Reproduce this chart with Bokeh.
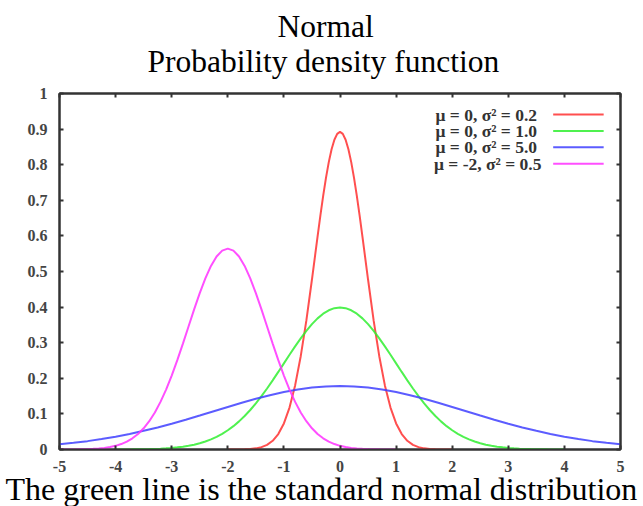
from bokeh.plotting import figure
from bokeh.models import Range1d, FixedTicker, LinearAxis, Label, Title
from bokeh.embed import file_html
from bokeh.resources import INLINE

# ---- data ----
red_x = [-2.0, -1.9, -1.8, -1.7, -1.6, -1.5, -1.4, -1.3, -1.2, -1.1, -1.0, -0.9, -0.8, -0.7, -0.6, -0.5, -0.45, -0.4, -0.35,
         -0.3, -0.25, -0.2, -0.15, -0.1, -0.05, 0.0, 0.05, 0.1, 0.15, 0.2, 0.25, 0.3, 0.35, 0.4, 0.45, 0.5, 0.6, 0.7, 0.8,
         0.9, 1.0, 1.1, 1.2, 1.3, 1.4, 1.5, 1.6, 1.7, 1.8, 1.9, 2.0]
red_y = [0.0000, 0.0001, 0.0003, 0.0007, 0.0015, 0.0032, 0.0066, 0.0130, 0.0244, 0.0433, 0.0732, 0.1178, 0.1801, 0.2621,
         0.3619, 0.4775, 0.5377, 0.5980, 0.6568, 0.7124, 0.7631, 0.8072, 0.8433, 0.8701, 0.8865, 0.8921, 0.8865, 0.8701,
         0.8433, 0.8072, 0.7631, 0.7124, 0.6568, 0.5980, 0.5377, 0.4775, 0.3619, 0.2621, 0.1801, 0.1178, 0.0732, 0.0433,
         0.0244, 0.0130, 0.0066, 0.0032, 0.0015, 0.0007, 0.0003, 0.0001, 0.0000]

green_x = [-4.0, -3.9, -3.8, -3.7, -3.6, -3.5, -3.4, -3.3, -3.2, -3.1, -3.0, -2.9, -2.8, -2.7, -2.6, -2.5, -2.4, -2.3, -2.2, -2.1,
           -2.0, -1.9, -1.8, -1.7, -1.6, -1.5, -1.4, -1.3, -1.2, -1.1, -1.0, -0.9, -0.8, -0.7, -0.6, -0.5, -0.4, -0.3, -0.2, -0.1,
           0.0, 0.1, 0.2, 0.3, 0.4, 0.5, 0.6, 0.7, 0.8, 0.9, 1.0, 1.1, 1.2, 1.3, 1.4, 1.5, 1.6, 1.7, 1.8, 1.9,
           2.0, 2.1, 2.2, 2.3, 2.4, 2.5, 2.6, 2.7, 2.8, 2.9, 3.0, 3.1, 3.2, 3.3, 3.4, 3.5, 3.6, 3.7, 3.8, 3.9, 4.0]
green_y = [0.0001, 0.0002, 0.0003, 0.0004, 0.0006, 0.0009, 0.0012, 0.0017, 0.0024, 0.0033, 0.0044, 0.0060, 0.0079, 0.0104,
           0.0136, 0.0175, 0.0224, 0.0283, 0.0355, 0.0440, 0.0540, 0.0656, 0.0790, 0.0940, 0.1109, 0.1295, 0.1497, 0.1714,
           0.1942, 0.2179, 0.2420, 0.2661, 0.2897, 0.3123, 0.3332, 0.3521, 0.3683, 0.3814, 0.3910, 0.3970, 0.3989,
           0.3970, 0.3910, 0.3814, 0.3683, 0.3521, 0.3332, 0.3123, 0.2897, 0.2661, 0.2420, 0.2179, 0.1942, 0.1714, 0.1497,
           0.1295, 0.1109, 0.0940, 0.0790, 0.0656, 0.0540, 0.0440, 0.0355, 0.0283, 0.0224, 0.0175, 0.0136, 0.0104, 0.0079,
           0.0060, 0.0044, 0.0033, 0.0024, 0.0017, 0.0012, 0.0009, 0.0006, 0.0004, 0.0003, 0.0002, 0.0001]

blue_x = [-5.0, -4.75, -4.5, -4.25, -4.0, -3.75, -3.5, -3.25, -3.0, -2.75, -2.5, -2.25, -2.0, -1.75, -1.5, -1.25, -1.0, -0.75,
          -0.5, -0.25, 0.0, 0.25, 0.5, 0.75, 1.0, 1.25, 1.5, 1.75, 2.0, 2.25, 2.5, 2.75, 3.0, 3.25, 3.5, 3.75, 4.0, 4.25,
          4.5, 4.75, 5.0]
blue_y = [0.0146, 0.0187, 0.0235, 0.0293, 0.0360, 0.0437, 0.0524, 0.0620, 0.0724, 0.0837, 0.0955, 0.1075, 0.1196, 0.1313,
          0.1425, 0.1526, 0.1614, 0.1686, 0.1740, 0.1773, 0.1784, 0.1773, 0.1740, 0.1686, 0.1614, 0.1526, 0.1425, 0.1313,
          0.1196, 0.1075, 0.0955, 0.0837, 0.0724, 0.0620, 0.0524, 0.0437, 0.0360, 0.0293, 0.0235, 0.0187, 0.0146]

magenta_x = [-5.0, -4.9, -4.8, -4.7, -4.6, -4.5, -4.4, -4.3, -4.2, -4.1, -4.0, -3.9, -3.8, -3.7, -3.6, -3.5, -3.4, -3.3, -3.2,
             -3.1, -3.0, -2.9, -2.8, -2.7, -2.6, -2.5, -2.4, -2.3, -2.2, -2.1, -2.0, -1.9, -1.8, -1.7, -1.6, -1.5, -1.4, -1.3,
             -1.2, -1.1, -1.0, -0.9, -0.8, -0.7, -0.6, -0.5, -0.4, -0.3, -0.2, -0.1, 0.0, 0.1, 0.2, 0.3, 0.4, 0.5, 0.6, 0.7,
             0.8, 0.9, 1.0]
magenta_y = [0.0001, 0.0001, 0.0002, 0.0004, 0.0007, 0.0011, 0.0018, 0.0028, 0.0045, 0.0069, 0.0103, 0.0153, 0.0221, 0.0314,
             0.0436, 0.0595, 0.0795, 0.1041, 0.1337, 0.1682, 0.2076, 0.2510, 0.2975, 0.3456, 0.3936, 0.4394, 0.4808, 0.5156,
             0.5421, 0.5586, 0.5642, 0.5586, 0.5421, 0.5156, 0.4808, 0.4394, 0.3936, 0.3456, 0.2975, 0.2510, 0.2076, 0.1682,
             0.1337, 0.1041, 0.0795, 0.0595, 0.0436, 0.0314, 0.0221, 0.0153, 0.0103, 0.0069, 0.0045, 0.0028, 0.0018, 0.0011,
             0.0007, 0.0004, 0.0002, 0.0001, 0.0001]

series_labels = ["\u03bc =  0, \u03c3\u00b2 = 0.2", "\u03bc =  0, \u03c3\u00b2 = 1.0",
                 "\u03bc =  0, \u03c3\u00b2 = 5.0", "\u03bc = -2, \u03c3\u00b2 = 0.5"]
series_colors = ["#ff3030", "#30ee30", "#4040ff", "#ff30ff"]

x_ticks = [-5, -4, -3, -2, -1, 0, 1, 2, 3, 4, 5]
x_tick_labels = ["-5", "-4", "-3", "-2", "-1", "0", "1", "2", "3", "4", "5"]
y_ticks = [0, 0.1, 0.2, 0.3, 0.4, 0.5, 0.6, 0.7, 0.8, 0.9, 1]
y_tick_labels = ["0", "0.1", "0.2", "0.3", "0.4", "0.5", "0.6", "0.7", "0.8", "0.9", "1"]

title_lines = ["Normal", "Probability density function"]
caption = "The green line is the standard normal distribution"

# ---- figure ----
SERIF = "Liberation Serif"
AX = "#333333"

p = figure(width=643, height=506, output_backend="svg", toolbar_location=None,
           x_range=Range1d(-5, 5), y_range=Range1d(0, 1),
           min_border_left=59, min_border_right=23, min_border_top=93, min_border_bottom=57,
           x_axis_location=None, y_axis_location=None)
p.title = None
p.grid.visible = False
p.outline_line_color = AX
p.outline_line_width = 2
p.background_fill_color = "white"
p.border_fill_color = "white"


def style_axis(ax, ticks, labels, show_labels):
    ax.ticker = FixedTicker(ticks=ticks)
    ax.major_label_overrides = {t: l for t, l in zip(ticks, labels)}
    ax.axis_line_color = AX
    ax.axis_line_width = 2
    ax.major_tick_in = 4
    ax.major_tick_out = 0
    ax.major_tick_line_color = AX
    ax.major_tick_line_width = 2
    ax.minor_tick_line_color = None
    ax.major_label_text_font = SERIF
    ax.major_label_text_font_style = "bold"
    ax.major_label_text_font_size = "16px" if show_labels else "0px"
    ax.major_label_text_color = "#444444" if show_labels else None
    ax.major_label_standoff = 9 if show_labels else 0


bottom = LinearAxis()
style_axis(bottom, x_ticks, x_tick_labels, True)
bottom.major_label_standoff = 11
p.add_layout(bottom, "below")
left = LinearAxis()
style_axis(left, y_ticks, y_tick_labels, True)
left.major_label_standoff = 12
p.add_layout(left, "left")
top = LinearAxis()
style_axis(top, x_ticks, x_tick_labels, False)
p.add_layout(top, "above")
right = LinearAxis()
style_axis(right, y_ticks, y_tick_labels, False)
p.add_layout(right, "right")

xs = [red_x, green_x, blue_x, magenta_x]
ys = [red_y, green_y, blue_y, magenta_y]
for x, y, c in zip(xs, ys, series_colors):
    p.line(x, y, line_color=c, line_width=2, line_alpha=0.85)

# ---- legend (label then sample line, right aligned, top right) ----
leg_y = [0.941, 0.895, 0.849, 0.803]
for lab, c, yy in zip(series_labels, series_colors, leg_y):
    p.add_layout(Label(x=3.59, y=yy, text=lab, text_align="right", text_baseline="middle",
                       text_font=SERIF, text_font_style="bold", text_font_size="17.5px",
                       text_color="#333333"))
    p.line([3.80, 4.70], [yy, yy], line_color=c, line_width=2, line_alpha=0.85)

# ---- titles and caption ----
p.add_layout(Title(text=title_lines[1], align="left", offset=88, text_font=SERIF, text_font_size="31.5px",
                   text_font_style="normal", text_color="black", standoff=30), "above")
p.add_layout(Title(text=title_lines[0], align="left", offset=218, text_font=SERIF, text_font_size="31.5px",
                   text_font_style="normal", text_color="black", standoff=-34), "above")
p.add_layout(Title(text=caption, align="left", offset=-54, text_font=SERIF, text_font_size="32px",
                   text_font_style="normal", text_color="black", standoff=-11), "below")

open("out.html", "w").write(file_html(p, INLINE))
